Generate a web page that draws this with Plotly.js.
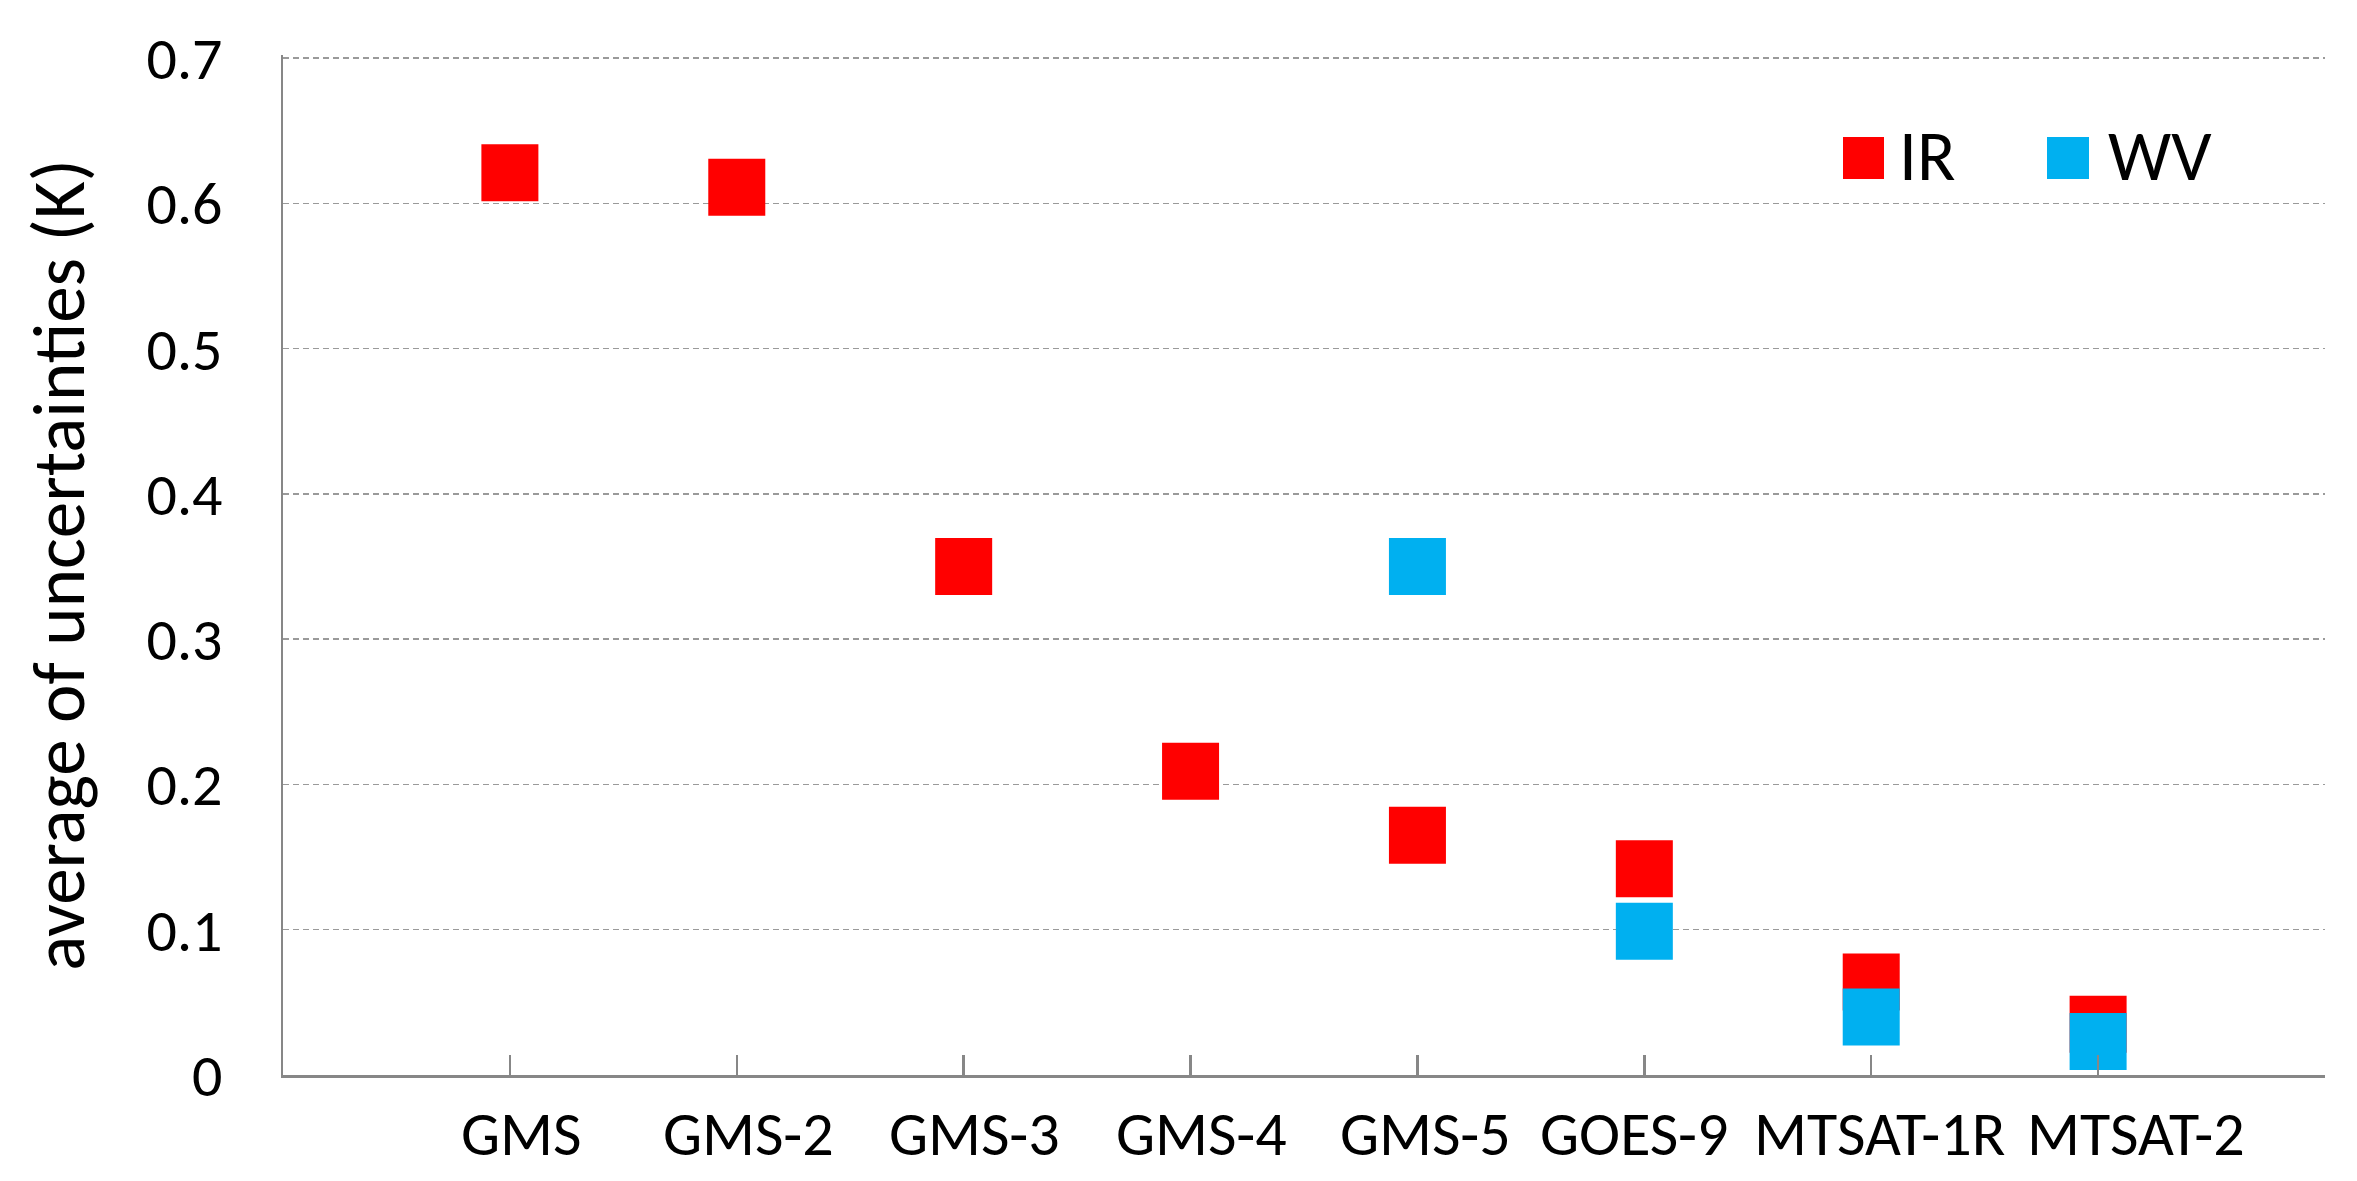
<!DOCTYPE html>
<html>
<head>
<meta charset="utf-8">
<script src="https://cdn.plot.ly/plotly-3.0.1.min.js"></script>
<style>
  html, body { margin: 0; padding: 0; background: #ffffff; }
  #chart { width: 2357px; height: 1181px; }
</style>
</head>
<body>
<div id="chart"></div>
<script>
// ---- data ----
const categories = ['GMS', 'GMS-2', 'GMS-3', 'GMS-4', 'GMS-5', 'GOES-9', 'MTSAT-1R', 'MTSAT-2'];
const irValues = [0.621, 0.611, 0.350, 0.209, 0.165, 0.142, 0.064, 0.035];
const wvValues = [null, null, null, null, 0.350, 0.099, 0.040, 0.023];
const seriesNames = ['IR', 'WV'];
const yTickVals = [0, 0.1, 0.2, 0.3, 0.4, 0.5, 0.6, 0.7];
const yTickText = ['0', '0.1', '0.2', '0.3', '0.4', '0.5', '0.6', '0.7'];
const yTitle = 'average of uncertainties (K)';

// ---- style: horizontal nudges of the category labels (px), as in the reference ----
const labelNudge = [12, 12, 11, 11, 8, -10, 8, 38];

// ---- build ----
const xPos = categories.map((c, i) => i + 1);
const colors = ['#FF0000', '#00B0F0'];
const FONT = 'Calibri, Carlito, Lato, sans-serif';

const traces = [irValues, wvValues].map((vals, k) => ({
  type: 'scatter',
  mode: 'markers',
  name: seriesNames[k],
  x: xPos,
  y: vals,
  marker: { symbol: 'square', size: 57, color: colors[k], line: { width: 0 } },
  showlegend: false,
  hoverinfo: 'x+y'
}));

const W = 2357, H = 1181;
const L = 283, R = 32, T = 55, B = 105.5;
const pw = W - L - R, ph = H - T - B;
const px = v => (v - L) / pw;
const py = v => (H - B - v) / ph;

// custom legend (large swatches like the reference)
const legendSwatches = [
  { x0: 1843, x1: 1884, label: seriesNames[0], tx: 1897 },
  { x0: 2047, x1: 2089, label: seriesNames[1], tx: 2106 }
];
const shapes = legendSwatches.map((s, k) => ({
  type: 'rect', xref: 'paper', yref: 'paper',
  x0: px(s.x0), x1: px(s.x1), y0: py(179), y1: py(137),
  fillcolor: colors[k], line: { width: 0 }
}));
const annotations = legendSwatches.map(s => ({
  xref: 'paper', yref: 'paper', x: px(s.tx), y: py(156),
  xanchor: 'left', yanchor: 'middle', showarrow: false,
  text: s.label, font: { family: FONT, size: 71, color: '#000000' }
}));
// category labels under the x axis, placed on the axis' own scale
categories.forEach((c, i) => {
  annotations.push({
    xref: 'x', yref: 'paper', x: xPos[i], y: 0,
    xanchor: 'center', yanchor: 'top', xshift: labelNudge[i], yshift: -19,
    showarrow: false, text: c,
    font: { family: FONT, size: 62, color: '#000000' }
  });
});

const axisGray = '#878787';
const layout = {
  width: W, height: H,
  margin: { l: L, r: R, t: T, b: B, pad: 0 },
  paper_bgcolor: '#ffffff',
  plot_bgcolor: '#ffffff',
  font: { family: FONT, color: '#000000' },
  xaxis: {
    range: [0, 9],
    tickmode: 'array',
    tickvals: xPos.concat([9]),
    showticklabels: false,
    ticks: 'inside', ticklen: 20, tickwidth: 2.5, tickcolor: axisGray,
    showline: true, linecolor: axisGray, linewidth: 2.5,
    showgrid: false, zeroline: false,
    fixedrange: true
  },
  yaxis: {
    range: [0, 0.7021],
    tickmode: 'array',
    tickvals: yTickVals,
    ticktext: yTickText,
    ticks: '',
    showline: true, linecolor: axisGray, linewidth: 2.5,
    showgrid: true, gridcolor: '#9a9a9a', gridwidth: 1.5, griddash: '6px,4px',
    zeroline: false,
    tickfont: { family: FONT, size: 60, color: '#000000' },
    ticklabelstandoff: 46,
    title: { text: yTitle, font: { family: FONT, size: 73, color: '#000000' }, standoff: 38 },
    fixedrange: true
  },
  shapes: shapes,
  annotations: annotations,
  showlegend: false
};

Plotly.newPlot('chart', traces, layout, { displayModeBar: false, staticPlot: true });
</script>
</body>
</html>
